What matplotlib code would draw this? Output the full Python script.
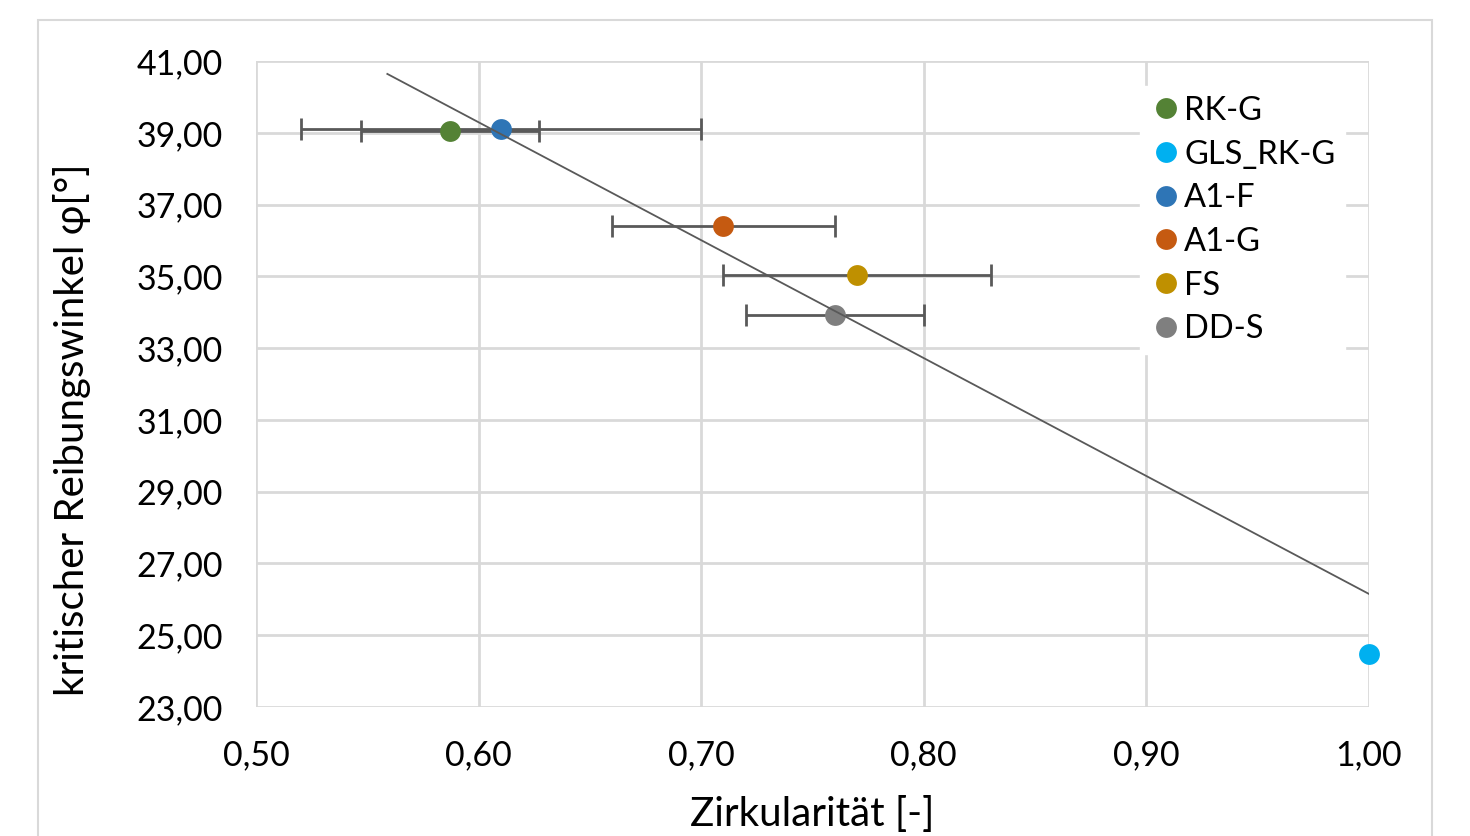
import matplotlib
matplotlib.use("Agg")
import matplotlib.pyplot as plt
from matplotlib.patches import Rectangle
from matplotlib.ticker import FixedLocator, FuncFormatter

plt.rcParams['font.family'] = ['Lato', 'DejaVu Sans']

# data
series = ["RK-G", "GLS_RK-G", "A1-F", "A1-G", "FS", "DD-S"]
colors = ["#548235", "#00B0F0", "#2E75B6", "#C55A11", "#BF9000", "#7F7F7F"]
x_vals = [0.587, 1.00, 0.61, 0.71, 0.77, 0.76]
y_vals = [39.05, 24.48, 39.10, 36.40, 35.04, 33.92]
x_err = [0.04, 0.0, 0.09, 0.05, 0.06, 0.04]
trend_x = [0.559, 1.00]
trend_y = [40.64, 26.15]
x_ticks = [0.5, 0.6, 0.7, 0.8, 0.9, 1.0]
y_ticks = [23, 25, 27, 29, 31, 33, 35, 37, 39, 41]

fig = plt.figure(figsize=(14.7, 8.36), dpi=100)
fig.patches.append(Rectangle((38/1470, -0.05), (1432-38)/1470, 1 - 20/836 + 0.05,
                             transform=fig.transFigure, fill=False,
                             edgecolor="#D9D9D9", linewidth=1.5, zorder=0))
ax = fig.add_axes([256/1470, 1 - 707/836, (1369-256)/1470, (707-61)/836])

ax.set_xlim(0.5, 1.0)
ax.set_ylim(23, 41)
ax.xaxis.set_major_locator(FixedLocator(x_ticks))
ax.yaxis.set_major_locator(FixedLocator(y_ticks))
fmt = FuncFormatter(lambda v, p: f"{v:.2f}".replace(".", ","))
ax.xaxis.set_major_formatter(fmt)
ax.yaxis.set_major_formatter(fmt)
ax.grid(True, color="#D9D9D9", linewidth=2)
ax.set_axisbelow(True)
for s in ax.spines.values():
    s.set_visible(False)
ax.tick_params(length=0, labelsize=24.5, colors="black")
ax.tick_params(axis='y', pad=24)
ax.tick_params(axis='x', pad=23)

for name, c, x, y, e in zip(series, colors, x_vals, y_vals, x_err):
    if e > 0:
        ax.errorbar(x, y, xerr=e, fmt='none', ecolor="#595959", elinewidth=2,
                    capsize=8, capthick=2, zorder=3, clip_on=False)
    ax.plot(x, y, 'o', color=c, markersize=15, label=name, zorder=4,
            clip_on=False, markeredgewidth=0)

ax.plot(trend_x, trend_y, color="#595959", linewidth=1.3, zorder=5)

ax.set_xlabel("Zirkularität [-]", fontsize=29, labelpad=18)
ax.set_ylabel("kritischer Reibungswinkel φ[°]", fontsize=29)
ax.yaxis.set_label_coords((91-256)/1113, (707-430)/646)

leg = ax.legend(loc="upper left", bbox_to_anchor=((1140-256)/1113, 1 - (86-61)/646),
                frameon=True, fontsize=23.5, handletextpad=0.05, labelspacing=0.42,
                handlelength=1.0, borderpad=0.3, borderaxespad=0)
leg.get_frame().set_edgecolor("white")
leg.get_frame().set_facecolor("white")
leg.get_frame().set_alpha(1)
leg.get_frame().set_boxstyle("square", pad=0)

fig.savefig("out.png", dpi=100)
